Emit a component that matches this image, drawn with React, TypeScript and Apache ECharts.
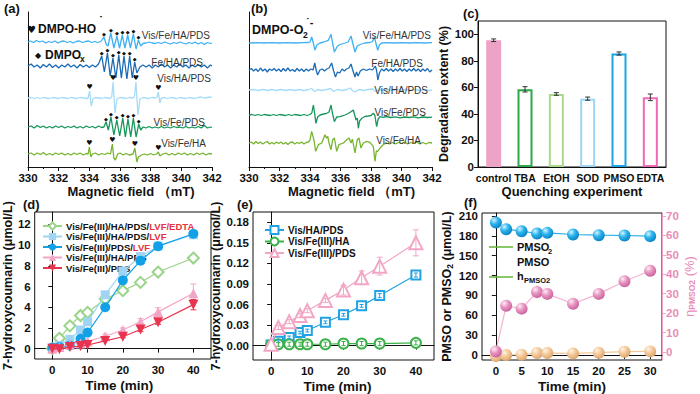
import React, { useEffect, useRef } from "react";
import * as echarts from "echarts";

const FONT = '"Liberation Sans", Arial, Helvetica, sans-serif';

// ---------- (a) EPR DMPO-HO· spectra: [field mT, intensity rel. baseline] ----------
const a_VisFeHAPDS = [[330,0],[330.15,1],[330.35,-0.5],[330.55,1.5],[330.75,0],[330.95,1],[331.15,-1],[331.35,0.5],[331.55,-0.5],[331.75,1],[331.95,-1],[332.15,0.5],[332.35,1],[332.55,-0.5],[332.75,0.5],[332.95,-1],[333.15,0.5],[333.35,1],[333.55,-0.5],[333.75,0.5],[333.95,1],[334.15,-0.5],[334.35,0.5],[334.55,-0.5],[334.75,0.5],[334.95,5],[335.12,-3],[335.22,-4],[335.4,9],[335.6,-6],[335.8,6],[335.97,-6],[336.15,7],[336.32,-6],[336.5,7],[336.68,-6],[336.87,8],[337.05,-7],[337.2,2],[337.35,-4],[337.5,-1.5],[337.7,-1],[337.9,0],[338.1,-1],[338.3,-1.5],[338.5,-0.5],[338.7,-1.5],[338.9,0],[339.1,-1],[339.3,-2],[339.5,-0.5],[339.7,-1.5],[339.9,0],[340.1,-1],[340.3,-2],[340.5,-0.5],[340.7,-1.5],[340.9,0],[341.1,-2],[341.3,-0.5],[341.5,-2.5],[341.7,-0.5],[341.9,-1.5],[342,-1]];
const a_FeHAPDS = [[330,0],[330.2,2],[330.4,-1],[330.6,1],[330.8,-2],[331,1.5],[331.2,-1],[331.4,2],[331.6,-1.5],[331.8,1],[332,-2],[332.2,1],[332.4,-1],[332.6,2],[332.8,-1],[333,1],[333.2,-2],[333.4,1.5],[333.6,-1],[333.8,1],[334,-1.5],[334.2,1],[334.4,-1],[334.6,2],[334.81,10],[334.98,-6],[335.18,13],[335.36,-10],[335.54,8],[335.73,-12],[335.92,11],[336.09,-12],[336.26,10],[336.45,-13],[336.63,10],[336.8,-12],[336.96,4],[337.1,-7],[337.3,-1],[337.5,1],[337.7,-1],[337.9,1],[338.1,-2],[338.3,1],[338.5,-1],[338.7,2],[338.9,-1],[339.1,1],[339.3,-2],[339.5,1],[339.7,-1],[339.9,2],[340.1,-1],[340.3,1],[340.5,-2],[340.7,1],[340.9,-1],[341.1,1.5],[341.3,-1],[341.5,1],[341.7,-2],[341.9,1],[342,0]];
const a_VisHAPDS = [[330,0],[330.2,0.5],[330.4,-0.5],[330.6,0.5],[330.8,-0.5],[331,0.5],[331.2,0],[331.4,-0.5],[331.6,0.5],[331.8,0],[332,-0.5],[332.2,0.5],[332.4,0],[332.6,-0.5],[332.8,0.5],[333,0],[333.2,-0.5],[333.4,0.5],[333.6,0],[333.8,-0.5],[333.92,0],[334.02,7],[334.12,-8],[334.24,-1],[334.4,0.5],[334.6,0],[334.8,-0.5],[335,0.5],[335.2,0],[335.35,-0.5],[335.46,1],[335.55,16],[335.67,-15],[335.8,-1],[336,0.5],[336.2,0],[336.4,-0.5],[336.6,0.5],[336.8,0],[336.94,1],[337.04,16],[337.17,-17],[337.3,-1],[337.5,0.5],[337.7,0],[337.9,-0.5],[338.1,0.5],[338.3,0],[338.42,1],[338.5,6],[338.6,-5],[338.7,0],[338.9,0.5],[339.1,-0.5],[339.3,0.5],[339.5,0],[339.7,-0.5],[339.9,0.5],[340.1,0],[340.3,-0.5],[340.5,0.5],[340.7,0],[340.9,-0.5],[341.1,0.5],[341.3,1],[341.5,0],[341.7,0.5],[341.9,1],[342,0.5]];
const a_VisFePDS = [[330,0],[330.2,1],[330.4,-1],[330.6,1.5],[330.8,-0.5],[331,1],[331.2,-1],[331.4,0.5],[331.6,-1],[331.8,1],[332,-0.5],[332.2,1],[332.4,-1],[332.6,0.5],[332.8,-0.5],[333,1],[333.2,-1],[333.4,0.5],[333.6,-1],[333.8,1],[334,-0.5],[334.2,0.5],[334.4,-1],[334.6,1],[334.8,-0.5],[334.95,0],[335.09,5],[335.24,-3],[335.41,10],[335.6,-8],[335.79,7],[335.98,-9],[336.18,9],[336.35,-10],[336.52,8],[336.7,-10],[336.87,9],[337.05,-10],[337.22,3],[337.35,-3],[337.5,0],[337.7,-1],[337.9,0.5],[338.1,-1],[338.3,0],[338.5,-1],[338.7,0.5],[338.9,-1],[339.1,0],[339.3,-1],[339.5,0.5],[339.7,-0.5],[339.9,0],[340.1,-1],[340.3,0.5],[340.5,-1],[340.7,0],[340.9,-1],[341.1,0.5],[341.3,-1],[341.5,1.5],[341.7,-1],[341.9,0],[342,-0.5]];
const a_VisFeHA = [[330,0],[330.2,1],[330.4,-1],[330.6,1],[330.8,-0.5],[331,1.5],[331.2,-1],[331.4,0.5],[331.6,-1],[331.8,1],[332,-0.5],[332.2,1],[332.4,-1],[332.6,0.5],[332.8,-1],[333,1],[333.2,-0.5],[333.4,1],[333.6,-1],[333.8,0.5],[333.92,0],[334.0,7],[334.1,-3],[334.2,0],[334.4,1],[334.6,-1],[334.8,0.5],[335,-0.5],[335.2,1],[335.38,0],[335.5,10],[335.6,-4],[335.7,-6],[335.85,0],[336,1],[336.2,-1],[336.4,0.5],[336.6,-1],[336.85,0],[336.97,6],[337.1,-8],[337.2,-3],[337.4,-1],[337.6,0],[337.8,-1],[338,0.5],[338.2,-1],[338.4,0],[338.5,2],[338.6,-2],[338.8,0],[339,1],[339.2,-1],[339.4,0.5],[339.6,-1],[339.8,1],[340,-0.5],[340.2,1],[340.4,-1],[340.6,0.5],[340.8,-1],[341,1],[341.2,-0.5],[341.4,1],[341.6,-1],[341.8,0.5],[342,0]];
const a_offsets = [125, 101, 69, 40, 13];
const a_names = ["Vis/Fe/HA/PDS", "Fe/HA/PDS", "Vis/HA/PDS", "Vis/Fe/PDS", "Vis/Fe/HA"];
// peak markers: fields per spectrum, 0 = ◆ (DMPOx), 1 = ♥ (DMPO-HO·)
const a_markFields = [
  [334.95, 335.4, 335.8, 336.15, 336.5, 336.87, 337.2],
  [334.81, 335.18, 335.54, 335.92, 336.26, 336.63, 336.96],
  [334.02, 335.55, 337.04, 338.5],
  [335.09, 335.41, 335.79, 336.18, 336.52, 336.87, 337.22],
  [334.0, 335.5, 336.97, 338.5],
];
const a_markKinds = [0, 0, 1, 0, 1];

// ---------- (b) EPR DMPO-O2·- spectra ----------
const b_VisFeHAPDS = [[330,0],[330.5,0.3],[331,0],[331.5,0.3],[332,0],[332.5,0.3],[333,0],[333.5,0.3],[333.9,0.5],[334.0,1],[334.11,6],[334.2,1],[334.33,-7],[334.45,-2],[334.66,0],[334.9,1],[335.2,2.7],[335.38,8.7],[335.48,0],[335.6,-9],[335.8,-3],[335.97,-1.5],[336.3,0],[336.5,1],[336.69,7],[336.8,0],[336.95,-9],[337.1,-3],[337.28,-1.5],[337.6,0],[337.93,0.5],[338.1,1.5],[338.22,6],[338.32,0],[338.44,-7.3],[338.55,-2],[338.7,0],[339,0.3],[339.5,0],[340,0.3],[340.5,0],[341,0.3],[341.5,0],[342,0.3]];
const b_FeHAPDS = [[330,0],[330.15,1.5],[330.3,-1],[330.45,1],[330.6,-1.5],[330.75,2],[330.9,-1],[331.05,1],[331.2,-2],[331.35,1],[331.5,-0.5],[331.65,1.5],[331.8,-1],[331.95,1],[332.1,-1.5],[332.25,1.5],[332.4,-1],[332.55,2],[332.7,-1],[332.85,0.5],[333,-1.5],[333.15,1.5],[333.3,-1],[333.45,1],[333.6,-1.5],[333.75,1],[333.9,-1],[334.05,1],[334.2,0],[334.31,7],[334.42,-1],[334.5,-5],[334.65,0],[334.8,1],[334.95,-1],[335.1,1],[335.25,2],[335.42,7],[335.55,-1],[335.67,-7],[335.8,-2],[335.95,-3],[336.1,1],[336.25,-1],[336.4,1],[336.55,2],[336.69,6],[336.8,0],[336.95,-7],[337.05,-2],[337.15,-6],[337.3,-1],[337.5,1],[337.7,-0.5],[337.9,1],[338.1,0],[338.28,4],[338.36,0],[338.45,-10],[338.55,-3],[338.7,1],[338.85,-1],[339,1.5],[339.15,-1],[339.3,1],[339.45,-1.5],[339.6,1],[339.75,-1],[339.9,1.5],[340.05,-1],[340.2,1],[340.35,-1.5],[340.5,1],[340.65,-1],[340.8,1.5],[340.95,-1],[341.1,1],[341.25,-1.5],[341.4,1],[341.55,-1],[341.7,1.5],[341.85,-2],[342,0]];
const b_VisHAPDS = [[330,0],[330.3,0.5],[330.6,-0.5],[330.9,0.5],[331.2,-0.5],[331.5,0.5],[331.8,-0.5],[332.1,0.5],[332.4,-0.5],[332.7,0.5],[333,-0.5],[333.3,0.5],[333.6,-0.5],[333.9,0.5],[334.1,1.5],[334.3,-1.5],[334.5,0.5],[334.8,-0.5],[335.1,0.5],[335.35,1.5],[335.55,-1.5],[335.8,0.5],[336.1,-0.5],[336.4,0.5],[336.65,2],[336.8,-1],[336.95,-2],[337.2,0.5],[337.5,-0.5],[337.8,0.5],[338.1,1],[338.3,-1.5],[338.5,0.5],[338.8,-0.5],[339.1,0.5],[339.4,-0.5],[339.7,0.5],[340,-0.5],[340.3,0.5],[340.6,-0.5],[340.9,0.5],[341.2,-0.5],[341.5,0.5],[341.8,-0.5],[342,0]];
const b_VisFePDS = [[330,0],[330.2,0.5],[330.4,-0.5],[330.6,0.5],[330.8,-0.5],[331,0.5],[331.2,0],[331.4,-0.5],[331.6,0.5],[331.8,-0.5],[332,0.5],[332.2,0],[332.4,-0.5],[332.6,0.5],[332.8,-0.5],[333,0.5],[333.2,0],[333.4,-0.5],[333.6,0.5],[333.8,-0.5],[334,0.5],[334.12,2],[334.22,10],[334.3,2],[334.39,-8.3],[334.5,-2],[334.66,0],[334.9,1],[335.1,1.7],[335.25,3],[335.38,10],[335.47,2],[335.6,-6.7],[335.75,-2],[335.97,-1.7],[336.3,0],[336.5,1.5],[336.69,3.3],[336.84,5],[336.93,0],[337.02,-5],[337.1,-3],[337.17,-13.3],[337.25,-6],[337.39,-3.3],[337.6,-1.5],[337.82,-1],[338,-0.5],[338.15,1.7],[338.25,0],[338.37,-11.7],[338.47,-4],[338.59,-1.7],[338.8,-2.3],[339,-1.5],[339.3,-2.5],[339.6,-1.8],[339.9,-2.8],[340.2,-2],[340.5,-2.5],[340.8,-1.8],[341.1,-2.8],[341.4,-2],[341.7,-2.5],[342,-2.2]];
const b_VisFeHA = [[330,0],[330.15,1],[330.3,-1],[330.45,1.5],[330.6,-0.5],[330.75,1],[330.9,-1],[331.05,0.5],[331.2,1.5],[331.35,-1],[331.5,0.5],[331.65,-1],[331.8,1],[331.95,-0.5],[332.1,1],[332.25,-1],[332.4,0.5],[332.55,-1.5],[332.7,0.5],[332.85,1],[333,-1],[333.15,0.5],[333.3,-0.5],[333.45,1],[333.6,-1],[333.75,0.5],[333.9,1],[334.0,3],[334.11,11.7],[334.26,3],[334.37,-8.3],[334.55,-1.7],[334.77,0],[334.98,8.3],[335.07,5],[335.16,6.7],[335.25,0],[335.38,-6.7],[335.49,3.3],[335.6,5],[335.75,-8.3],[335.9,-1.7],[336.19,0],[336.41,3.3],[336.56,5],[336.69,0],[336.78,4],[336.95,-10],[337.1,3.3],[337.21,5],[337.34,-5],[337.5,0],[337.72,1.7],[337.93,0.7],[338.15,-3.3],[338.26,-18.3],[338.35,-8],[338.44,-8.3],[338.59,-5],[338.8,-1.7],[339,0],[339.2,-1],[339.4,0.5],[339.6,-1],[339.8,0.5],[340,-0.5],[340.2,1],[340.4,-1],[340.6,0.5],[340.8,-0.5],[341,1],[341.2,-1],[341.4,0.5],[341.6,-1],[341.8,0.5],[342,0]];
const b_offsets = [124, 97, 77, 52, 24];

// ---------- (c) quenching ----------
const c_categories = ["control", "TBA", "EtOH", "SOD", "PMSO", "EDTA"];
const c_values = [95.5, 58.5, 55, 51.5, 85.5, 52.5];
const c_errors = [1, 2, 1, 1.2, 1.2, 2.5];

// ---------- (d) 7-hydroxycoumarin ----------
const d_time = [0, 2, 5, 8, 10, 15, 20, 25, 30, 40];
const d_names = ["Vis/Fe(III)/HA/PDS/LVF/EDTA", "Vis/Fe(III)/HA/PDS/LVF", "Vis/Fe(III)/PDS/LVF", "Vis/Fe(III)/HA/PDS", "Vis/Fe(III)/PDS"];
const d_HAPDS_LVF_EDTA = [0, 1.0, 2.2, 3.2, 3.5, 4.8, 5.6, 6.4, 7.4, 8.75];
const d_HAPDS_LVF = [0.05, 0.3, 0.9, 1.8, 2.6, 5.2, 7.5, 8.9, 9.9, 11.0];
const d_PDS_LVF = [0.1, 0.15, 0.3, 0.95, 1.55, 4.0, 6.6, 8.5, 9.9, 11.1];
const d_HAPDS = [0, 0.15, 0.4, 0.5, 0.7, 1.2, 1.8, 2.6, 3.55, 5.35];
const d_PDS = [0, -0.05, 0.15, 0.25, 0.35, 0.75, 1.15, 1.85, 2.55, 4.25];
const d_HAPDS_err = [0, 0, 0, 0, 0, 0.2, 0.2, 0.3, 0.4, 0.9];
const d_PDS_err = [0, 0, 0, 0, 0, 0, 0.1, 0.2, 0.2, 0.5];

// ---------- (e) ----------
const e_time = [0, 2, 5, 8, 10, 15, 20, 25, 30, 40];
const e_names = ["Vis/HA/PDS", "Vis/Fe(III)/HA", "Vis/Fe(III)/PDS "];
const e_VisHAPDS = [0.001, 0.0063, 0.012, 0.019, 0.022, 0.034, 0.045, 0.058, 0.073, 0.103];
const e_VisFeHA = [0.001, 0.002, 0.002, 0.002, 0.002, 0.002, 0.003, 0.003, 0.003, 0.004];
const e_VisFePDS = [0.002, 0.0265, 0.035, 0.044, 0.051, 0.066, 0.081, 0.099, 0.116, 0.15];
const e_VisHAPDS_err = [0, 0.002, 0.002, 0.002, 0.002, 0.002, 0.002, 0.002, 0.003, 0.003];
const e_VisFeHA_err = [0, 0.003, 0.003, 0.003, 0.003, 0.003, 0.003, 0.003, 0.003, 0.003];
const e_VisFePDS_err = [0, 0.003, 0.003, 0.003, 0.003, 0.003, 0.007, 0.01, 0.013, 0.019];

// ---------- (f) ----------
const f_time = [0, 2, 5, 8, 10, 15, 20, 25, 30];
const f_PMSO = [200, 190, 187, 183.5, 184.5, 182, 181, 180.5, 179.5];
const f_PMSO2 = [-1.5, 0, 0.5, 3, 3, 2.5, 3.5, 5, 5.5];
const f_eta = [0.3, 23.8, 22.3, 30.9, 29.9, 24.8, 29.9, 36.4, 41.8];
const f_eta_err = [0, 1, 1, 3.5, 3, 1, 1, 1, 1];

const EPR_COLORS = ["#3db1f2", "#1b6cb5", "#a6dcf7", "#16965a", "#78b42e"];

function bold(size: number) {
  return `bold ${size}px ${FONT}`;
}

function txt(x: number, y: number, text: string, font: string, fill = "#111", align = "left", extra: any = {}) {
  return { type: "text", x, y, silent: true, z: 100, style: { text, font, fill, align, verticalAlign: "middle", ...extra } };
}

function peakAt(spec: number[][], f: number) {
  let best = spec[0];
  for (const p of spec) if (Math.abs(p[0] - f) < Math.abs(best[0] - f)) best = p;
  return best[1];
}

function errorSeries(xi: number, yi: number, data: number[][], color: string, cap = 3, z = 1) {
  return {
    type: "custom",
    xAxisIndex: xi,
    yAxisIndex: yi,
    silent: true,
    z,
    data,
    renderItem: (params: any, api: any) => {
      const x = api.value(0), y = api.value(1), e = api.value(2);
      if (!e) return { type: "group", children: [] };
      const hi = api.coord([x, y + e]);
      const lo = api.coord([x, y - e]);
      const st = { stroke: color, lineWidth: 1 };
      return {
        type: "group",
        children: [
          { type: "line", shape: { x1: hi[0], y1: hi[1], x2: lo[0], y2: lo[1] }, style: st },
          { type: "line", shape: { x1: hi[0] - cap, y1: hi[1], x2: hi[0] + cap, y2: hi[1] }, style: st },
          { type: "line", shape: { x1: lo[0] - cap, y1: lo[1], x2: lo[0] + cap, y2: lo[1] }, style: st },
        ],
      };
    },
  };
}

const axisLineBlack = { show: true, lineStyle: { color: "#111", width: 1 } };
const tickLabel = (extra: any = {}) => ({ color: "#111", fontSize: 11, fontWeight: "bold", fontFamily: FONT, margin: 4, ...extra });
const nameStyle = (size = 13, extra: any = {}) => ({ color: "#111", fontSize: size, fontWeight: "bold", fontFamily: FONT, ...extra });

function sphere(c0: string, c1: string, c2: string) {
  return {
    type: "radial", x: 0.35, y: 0.3, r: 0.75,
    colorStops: [{ offset: 0, color: c0 }, { offset: 0.45, color: c1 }, { offset: 1, color: c2 }],
  };
}

function buildOption() {
  const aSpecs = [a_VisFeHAPDS, a_FeHAPDS, a_VisHAPDS, a_VisFePDS, a_VisFeHA];
  const bSpecs = [b_VisFeHAPDS, b_FeHAPDS, b_VisHAPDS, b_VisFePDS, b_VisFeHA];

  const grid = [
    { left: 28, top: 12, width: 184, height: 155 },
    { left: 249, top: 12, width: 183, height: 155 },
    { left: 478, top: 21, width: 188, height: 146, show: true, borderColor: "#111", borderWidth: 1 },
    { left: 33, top: 212, width: 178, height: 147, show: true, borderColor: "#111", borderWidth: 1 },
    { left: 253, top: 212, width: 181, height: 149, show: true, borderColor: "#111", borderWidth: 1 },
    { left: 482, top: 213, width: 180, height: 148, show: true, borderColor: "#111", borderWidth: 1 },
  ];

  const eprX = (gi: number, pad: number) => ({
    type: "value", gridIndex: gi, min: 330, max: 342, interval: 2,
    axisLine: axisLineBlack,
    axisTick: { show: true, length: 4, lineStyle: { color: "#111" } },
    minorTick: { show: true, splitNumber: 2, length: 2, lineStyle: { color: "#111" } },
    axisLabel: tickLabel({ fontSize: 11.5, margin: 5 }),
    splitLine: { show: false },
    name: "Magnetic field （mT)", nameLocation: "middle", nameGap: 18,
    nameTextStyle: nameStyle(13, { padding: [0, 0, 0, pad] }),
  });

  const xAxis: any[] = [
    eprX(0, 22),
    eprX(1, 22),
    {
      type: "category", gridIndex: 2, data: c_categories,
      axisLine: axisLineBlack, axisTick: { show: false },
      axisLabel: tickLabel({ fontSize: 10.5, margin: 5, interval: 0 }),
      name: "Quenching experiment", nameLocation: "middle", nameGap: 18,
      nameTextStyle: nameStyle(13),
    },
    {
      type: "value", gridIndex: 3, min: -5, max: 45,
      axisLine: axisLineBlack,
      axisTick: { show: true, length: 4, customValues: [0, 10, 20, 30, 40], lineStyle: { color: "#111" } },
      axisLabel: tickLabel({ fontSize: 11.5, margin: 5, customValues: [0, 10, 20, 30, 40] }),
      splitLine: { show: false },
      name: "Time (min)", nameLocation: "middle", nameGap: 19,
      nameTextStyle: nameStyle(13.5, { padding: [0, 7, 0, 0] }),
    },
    {
      type: "value", gridIndex: 4, min: -5, max: 45,
      axisLine: axisLineBlack,
      axisTick: { show: true, length: 4, customValues: [0, 10, 20, 30, 40], lineStyle: { color: "#111" } },
      axisLabel: tickLabel({ fontSize: 11.5, margin: 5, customValues: [0, 10, 20, 30, 40] }),
      splitLine: { show: false },
      name: "Time (min)", nameLocation: "middle", nameGap: 19,
      nameTextStyle: nameStyle(13.5, { padding: [0, 12, 0, 0] }),
    },
    {
      type: "value", gridIndex: 5, min: -2.7, max: 32.3,
      axisLine: axisLineBlack,
      axisTick: { show: true, length: 4, customValues: [0, 5, 10, 15, 20, 25, 30], lineStyle: { color: "#111" } },
      axisLabel: tickLabel({ fontSize: 11.5, margin: 5, customValues: [0, 5, 10, 15, 20, 25, 30] }),
      splitLine: { show: false },
      name: "Time (min)", nameLocation: "middle", nameGap: 19,
      nameTextStyle: nameStyle(13.5),
    },
  ];

  const yAxis: any[] = [
    { type: "value", gridIndex: 0, min: 0, max: 155, axisLine: axisLineBlack, axisTick: { show: false }, axisLabel: { show: false }, splitLine: { show: false } },
    { type: "value", gridIndex: 1, min: 0, max: 155, axisLine: axisLineBlack, axisTick: { show: false }, axisLabel: { show: false }, splitLine: { show: false } },
    {
      type: "value", gridIndex: 2, min: 0, max: 110,
      axisLine: axisLineBlack,
      axisTick: { show: true, length: 4, customValues: [0, 20, 40, 60, 80, 100], lineStyle: { color: "#111" } },
      axisLabel: tickLabel({ fontSize: 11.5, customValues: [0, 20, 40, 60, 80, 100] }),
      splitLine: { show: false },
      name: "Degradation extent (%)", nameLocation: "middle", nameGap: 19, nameRotate: 90,
      nameTextStyle: nameStyle(12.5),
    },
    {
      type: "value", gridIndex: 3, min: -1, max: 13.2,
      axisLine: axisLineBlack,
      axisTick: { show: true, length: 4, customValues: [0, 2, 4, 6, 8, 10, 12], lineStyle: { color: "#111" } },
      axisLabel: tickLabel({ fontSize: 11.5, customValues: [0, 2, 4, 6, 8, 10, 12] }),
      splitLine: { show: false },
      name: "7-hydroxycoumarin (μmol/L)", nameLocation: "middle", nameGap: 19, nameRotate: 90,
      nameTextStyle: nameStyle(12.5),
    },
    {
      type: "value", gridIndex: 4, min: -0.021, max: 0.195,
      axisLine: axisLineBlack,
      axisTick: { show: true, length: 4, customValues: [0, 0.03, 0.06, 0.09, 0.12, 0.15, 0.18], lineStyle: { color: "#111" } },
      axisLabel: tickLabel({ fontSize: 11.5, customValues: [0, 0.03, 0.06, 0.09, 0.12, 0.15, 0.18], formatter: (v: number) => v.toFixed(2) }),
      splitLine: { show: false },
      name: "7-hydroxycoumarin (μmol/L)", nameLocation: "middle", nameGap: 23, nameRotate: 90,
      nameTextStyle: nameStyle(12.5),
    },
    {
      type: "value", gridIndex: 5, min: -7.5, max: 214.5,
      axisLine: axisLineBlack,
      axisTick: { show: true, length: 4, customValues: [0, 30, 60, 90, 120, 150, 180, 210], lineStyle: { color: "#111" } },
      axisLabel: tickLabel({ fontSize: 11.5, customValues: [0, 30, 60, 90, 120, 150, 180, 210] }),
      splitLine: { show: false },
      name: "{t|PMSO or PMSO}{s|2}{t| (μmol/L)}", nameLocation: "middle", nameGap: 25, nameRotate: 90,
      nameTextStyle: nameStyle(12.5, { rich: { t: nameStyle(12.5), s: nameStyle(8.5, { padding: [6, 0, 0, 0] }) } }),
    },
    {
      type: "value", gridIndex: 5, position: "right", min: -4.1, max: 71.5,
      axisLine: { show: true, lineStyle: { color: "#f0a3c8", width: 1 } },
      axisTick: { show: true, length: 4, customValues: [0, 10, 20, 30, 40, 50, 60, 70], lineStyle: { color: "#f0a3c8" } },
      axisLabel: tickLabel({ fontSize: 11.5, color: "#e98bb8", customValues: [0, 10, 20, 30, 40, 50, 60, 70] }),
      splitLine: { show: false },
      name: "{t|η}{s|PMSO2}{t| (%)}", nameLocation: "middle", nameGap: 18, nameRotate: 90,
      nameTextStyle: nameStyle(13, { color: "#e98bb8", rich: { t: nameStyle(13, { color: "#e98bb8", fontWeight: "normal" }), s: nameStyle(8.5, { color: "#e98bb8", padding: [6, 0, 0, 0] }) } }),
    },
  ];

  const series: any[] = [];

  // (a) spectra
  aSpecs.forEach((sp, i) => {
    series.push({
      type: "line", name: "a-" + a_names[i], xAxisIndex: 0, yAxisIndex: 0, symbol: "none",
      data: sp.map((p) => [p[0], p[1] + a_offsets[i]]),
      lineStyle: { color: EPR_COLORS[i], width: 1.3 }, itemStyle: { color: EPR_COLORS[i] }, z: 2,
    });
  });
  // (a) peak markers
  const markData: number[][] = [];
  a_markFields.forEach((fs, i) => {
    fs.forEach((f) => markData.push([f, a_offsets[i] + Math.max(peakAt(aSpecs[i], f), 0) + 1, a_markKinds[i]]));
  });
  series.push({
    type: "custom", xAxisIndex: 0, yAxisIndex: 0, silent: true, z: 5, data: markData,
    renderItem: (params: any, api: any) => {
      const pt = api.coord([api.value(0), api.value(1)]);
      const heart = api.value(2) === 1;
      return {
        type: "text", x: pt[0], y: pt[1],
        style: { text: heart ? "♥" : "◆", fill: "#111", font: `${heart ? 7 : 5}px "DejaVu Sans", sans-serif`, align: "center", verticalAlign: "bottom" },
      };
    },
  });

  // (b) spectra
  bSpecs.forEach((sp, i) => {
    series.push({
      type: "line", name: "b-" + a_names[i], xAxisIndex: 1, yAxisIndex: 1, symbol: "none",
      data: sp.map((p) => [p[0], p[1] + b_offsets[i]]),
      lineStyle: { color: EPR_COLORS[i], width: 1.3 }, itemStyle: { color: EPR_COLORS[i] }, z: 2,
    });
  });

  // (c) bars
  const c_colors = ["#eda3c6", "#2aa84a", "#a9d98a", "#9dd6f5", "#1aa3e6", "#f069b4"];
  series.push({
    type: "bar", name: "quench", xAxisIndex: 2, yAxisIndex: 2, barWidth: 15,
    data: c_values.map((v, i) => ({
      value: v,
      itemStyle: i === 0 ? { color: c_colors[0] } : { color: "#fff", borderColor: c_colors[i], borderWidth: 2 },
    })),
    z: 2,
  });
  series.push(errorSeries(2, 2, c_values.map((v, i) => [i, v, c_errors[i]]), "#333", 2.5, 4));

  // (d)
  const dData = [d_HAPDS_LVF_EDTA, d_HAPDS_LVF, d_PDS_LVF, d_HAPDS, d_PDS];
  const dColors = ["#9ad488", "#9fd4f5", "#12a0e6", "#f2a6c6", "#e8344f"];
  const dSymbols = ["emptyDiamond", "rect", "circle", "triangle", "triangle"];
  const dSizes = [11, 9, 10, 10, 10];
  dData.forEach((arr, i) => {
    series.push({
      type: "line", name: d_names[i], xAxisIndex: 3, yAxisIndex: 3,
      data: arr.map((v, k) => [d_time[k], v]),
      symbol: dSymbols[i], symbolSize: dSizes[i], symbolRotate: i === 4 ? 180 : 0,
      lineStyle: { color: dColors[i], width: 1.2 },
      itemStyle: { color: dColors[i], borderWidth: i === 0 ? 1.5 : 0 },
      z: 3 + i,
    });
  });
  series.push(errorSeries(3, 3, d_HAPDS.map((v, k) => [d_time[k], v, d_HAPDS_err[k]]), dColors[3], 3, 2));
  series.push(errorSeries(3, 3, d_PDS.map((v, k) => [d_time[k], v, d_PDS_err[k]]), dColors[4], 3, 2));

  // (e)
  const eData = [e_VisHAPDS, e_VisFeHA, e_VisFePDS];
  const eColors = ["#22a2e2", "#3cb04a", "#f2a6c6"];
  const eSymbols = ["emptyRect", "emptyCircle", "emptyTriangle"];
  const eSizes = [9, 10, 13];
  eData.forEach((arr, i) => {
    series.push({
      type: "line", name: e_names[i], xAxisIndex: 4, yAxisIndex: 4,
      data: arr.map((v, k) => [e_time[k], v]),
      symbol: eSymbols[i], symbolSize: eSizes[i],
      lineStyle: { color: eColors[i], width: 1.2 },
      itemStyle: { color: eColors[i], borderWidth: 1.5 },
      z: 3 + i,
    });
  });
  series.push(errorSeries(4, 4, e_VisHAPDS.map((v, k) => [e_time[k], v, e_VisHAPDS_err[k]]), eColors[0], 2, 10));
  series.push(errorSeries(4, 4, e_VisFeHA.map((v, k) => [e_time[k], v, e_VisFeHA_err[k]]), eColors[1], 2, 10));
  series.push(errorSeries(4, 4, e_VisFePDS.map((v, k) => [e_time[k], v, e_VisFePDS_err[k]]), eColors[2], 3, 10));

  // (f)
  series.push({
    type: "line", name: "f-PMSO", xAxisIndex: 5, yAxisIndex: 5,
    data: f_PMSO.map((v, k) => [f_time[k], v]),
    symbol: "circle", symbolSize: 12,
    lineStyle: { color: "#27aee8", width: 1.2 },
    itemStyle: { color: sphere("#d8f3ff", "#2ab4ee", "#0a7fc0") }, z: 5,
  });
  series.push({
    type: "line", name: "f-PMSO2", xAxisIndex: 5, yAxisIndex: 5,
    data: f_PMSO2.map((v, k) => [f_time[k], v]),
    symbol: "circle", symbolSize: 12,
    lineStyle: { color: "#f3c99a", width: 1.2 },
    itemStyle: { color: sphere("#fff3e6", "#f4ca9c", "#d9a36a") }, z: 5,
  });
  series.push({
    type: "line", name: "f-eta", xAxisIndex: 5, yAxisIndex: 6,
    data: f_eta.map((v, k) => [f_time[k], v]),
    symbol: "circle", symbolSize: 12,
    lineStyle: { color: "#f4b3d2", width: 1.2 },
    itemStyle: { color: sphere("#ffeef7", "#e896c2", "#c6609a") }, z: 5,
  });
  series.push(errorSeries(5, 6, f_eta.map((v, k) => [f_time[k], v, f_eta_err[k]]), "#f4b3d2", 0, 2));

  const legendCommon = {
    orient: "vertical", selectedMode: false,
    textStyle: { color: "#111", fontFamily: FONT, fontWeight: "bold", fontSize: 9.5, padding: [0, 0, 0, -1] },
  };
  const legend: any[] = [
    {
      ...legendCommon,
      data: d_names, left: 37, top: 216, itemWidth: 19, itemHeight: 9, itemGap: 0.5,
      textStyle: {
        ...legendCommon.textStyle,
        rich: {
          k: { color: "#111", fontFamily: FONT, fontWeight: "bold", fontSize: 9.5 },
          r: { color: "#e8323c", fontFamily: FONT, fontWeight: "bold", fontSize: 9.5 },
        },
      },
      formatter: (name: string) => {
        const i = name.indexOf("LVF");
        if (i < 0) return `{k|${name}}`;
        return `{k|${name.slice(0, i)}}{r|${name.slice(i)}}`;
      },
    },
    {
      ...legendCommon,
      data: e_names, left: 259, top: 220, itemWidth: 19, itemHeight: 10, itemGap: 1.5,
      textStyle: { ...legendCommon.textStyle, fontSize: 10 },
      formatter: (name: string) => name.trim(),
    },
  ];

  const graphic: any[] = [
    // panel labels
    txt(4, 8, "(a)", bold(13)),
    txt(251, 8, "(b)", bold(13)),
    txt(463, 13, "(c)", bold(13)),
    txt(23, 204, "(d)", bold(13)),
    txt(237, 204, "(e)", bold(13)),
    txt(464, 202, "(f)", bold(13)),
    // (a) header
    txt(27, 29, "♥", `10px "DejaVu Sans", sans-serif`),
    txt(38, 29, "DMPO-HO", bold(12)),
    txt(99, 21, "˙", bold(12)),
    txt(35, 55, "◆", `8px "DejaVu Sans", sans-serif`),
    txt(45, 55, "DMPO", bold(12)),
    txt(80, 59, "x", bold(8.5)),
    // (b) header
    txt(252, 30, "DMPO-O", bold(12.5)),
    txt(303, 35, "2", bold(8.5)),
    txt(306, 22, "˙-", bold(11)),
    // (f) legend
    { type: "line", silent: true, z: 100, shape: { x1: 489, y1: 247, x2: 513, y2: 247 }, style: { stroke: "#62b534", lineWidth: 1.5 } },
    txt(517, 247, "PMSO", bold(11)),
    txt(548, 251, "2", bold(7.5)),
    txt(517, 262, "PMSO", bold(11)),
    { type: "line", silent: true, z: 100, shape: { x1: 489, y1: 277, x2: 513, y2: 277 }, style: { stroke: "#62b534", lineWidth: 1.5 } },
    txt(517, 276, "h", bold(11)),
    txt(524, 280, "PMSO2", bold(7.5)),
  ];
  // spectrum labels
  const aLabelPos = [[210, 35], [203, 62], [211, 78], [205, 122], [206, 143]];
  const bLabelPos = [[431, 35], [423, 63], [428, 90], [426, 112], [421, 140]];
  a_names.forEach((n, i) => {
    graphic.push(txt(aLabelPos[i][0], aLabelPos[i][1], n, `10px ${FONT}`, "#333", "right"));
    graphic.push(txt(bLabelPos[i][0], bLabelPos[i][1], n, `10px ${FONT}`, "#333", "right"));
  });

  return {
    animation: false,
    backgroundColor: "#fff",
    grid,
    xAxis,
    yAxis,
    series,
    legend,
    graphic,
  };
}

export default function App() {
  const ref = useRef<HTMLDivElement>(null);
  useEffect(() => {
    const chart = echarts.init(ref.current!, null, { renderer: "svg" });
    chart.setOption(buildOption() as any);
    return () => chart.dispose();
  }, []);
  return <div ref={ref} style={{ position: "fixed", left: 0, top: 0, width: 700, height: 394, background: "#fff" }} />;
}
